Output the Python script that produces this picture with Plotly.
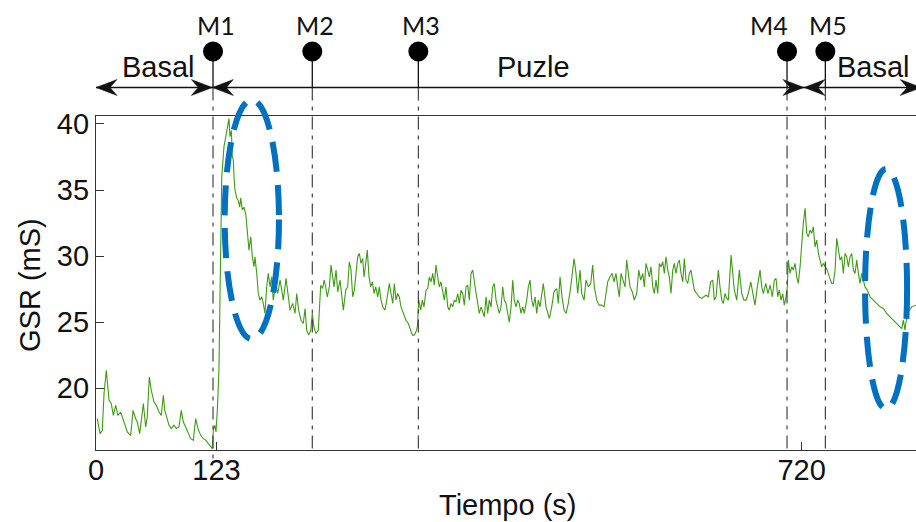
import plotly.graph_objects as go

# ---------------- data ----------------
time_s = [
    1.3, 4.1, 6.4, 8.2, 10.5, 12.2, 13.3, 15.6, 17.7, 20.1, 22.4, 25.2, 26.8, 29.3, 31.9, 35.4,
    37.8, 40.5, 42.1, 44.6, 47.2, 48.3, 50.7, 52.3, 54.4, 56.4, 59.2, 61.5, 64.3, 66.6, 68.7,
    70.1, 72.1, 74.5, 76.8, 79.6, 81.9, 84.7, 87.0, 89.1, 91.5, 94.2, 96.6, 99.3, 101.7, 104.1,
    106.8, 109.5, 112.2, 114.6, 117.0, 118.7, 119.7, 121.1, 122.4, 123.8, 125.5, 126.5, 127.2,
    128.3, 130.6, 133.4, 134.7, 135.7, 136.7, 138.1, 139.1, 140.1, 140.8, 141.8, 143.6, 145.2,
    146.6, 147.7, 149.3, 151.0, 152.8, 153.8, 155.1, 156.1, 157.9, 159.5, 161.2,
    162.2, 164.0, 165.6, 167.3, 169.1, 170.7, 172.4, 174.2, 175.8, 177.6, 179.3, 180.9, 183.4,
    185.4, 187.8, 189.5, 191.1, 193.9, 195.6, 198.0, 200.7, 203.1, 204.8, 206.8, 209.2, 211.5,
    213.3, 215.0, 217.0, 219.1, 220.7, 222.4, 224.5, 226.8, 229.3, 231.3, 232.7, 234.0, 236.0,
    238.1, 239.8, 241.5, 242.9, 244.9, 246.6, 249.0, 250.7, 252.4, 254.8, 256.8, 258.5, 260.2,
    261.9, 263.6, 265.3, 267.0, 268.7, 270.4, 272.1, 273.5, 275.2, 276.8, 278.6, 280.3, 282.0,
    283.7, 285.4, 287.5, 289.1, 290.8, 292.6, 294.9, 297.2, 299.3, 301.0, 302.8, 304.4, 306.1,
    307.9, 309.5, 311.2, 313.6, 316.3, 318.7, 321.1, 322.8, 324.8, 326.5, 327.9, 329.3, 331.3,
    333.0, 334.7, 336.7, 338.5, 340.1, 341.8, 343.6, 345.2, 346.9, 348.7, 350.3, 352.0, 353.8,
    355.4, 357.1, 358.9, 360.5, 362.2, 364.0, 365.6, 367.3, 369.1, 370.7, 372.4, 374.2, 375.8,
    377.6, 379.3, 380.9, 382.7, 384.4, 386.0, 387.8, 389.5, 391.1, 392.9, 394.6, 396.2, 398.0,
    399.7, 401.3, 403.1, 404.8, 406.4, 408.2, 409.9, 411.5, 413.3, 415.0, 416.6, 418.4, 420.1,
    421.7, 423.5, 425.2, 426.8, 428.6, 430.3, 431.9, 433.7, 435.4, 437.0, 439.5, 441.1, 442.9,
    444.6, 446.2, 448.0, 449.7, 451.3,
    453.1, 456.4, 459.2, 462.6, 465.0, 467.3, 470.1, 471.7, 473.5, 475.5, 477.6, 479.6, 481.9,
    484.4, 486.4, 487.8, 489.8, 491.5, 493.9, 495.6, 498.0, 500.0, 502.4, 504.8, 506.8, 508.5,
    510.9, 513.3, 516.0, 518.4, 520.4, 522.1, 524.5, 526.5, 528.6, 530.6, 532.3, 534.0, 535.7,
    537.4, 539.8, 541.5, 543.2, 544.9, 547.2, 549.3, 551.7, 553.8, 555.8, 557.9, 559.5, 561.2,
    563.0, 564.6, 566.3, 568.1, 569.7, 571.4, 573.2, 574.8, 576.5, 578.3, 579.9, 581.6, 583.4,
    585.0, 586.7, 588.5, 590.1, 591.8, 593.6, 595.2, 596.9, 598.7, 600.3, 602.0, 603.8, 605.4,
    607.1, 608.9, 610.5, 613.0, 615.3, 618.1, 620.4, 622.4, 624.8, 627.2, 629.3, 630.9, 632.7,
    635.0, 636.7, 638.5, 640.1, 641.8, 643.6, 645.2, 648.0, 649.7, 651.3, 653.8, 656.4, 658.9,
    661.2, 663.3, 665.6, 668.1, 670.1, 672.4, 674.8, 677.6, 679.3, 680.9, 683.4, 685.7, 687.8,
    690.1, 692.1, 693.9, 695.6, 697.2, 699.0, 700.7, 702.3, 704.1, 705.4, 706.4, 708.2, 709.9,
    711.5, 713.3, 715.0, 716.6, 718.4, 720.1, 721.7, 723.5, 725.2, 726.8, 728.6, 730.3, 731.9,
    733.7, 735.4, 737.1, 738.8, 740.5, 742.2, 744.6, 746.2, 748.3, 750.7, 752.3, 754.1, 755.8,
    757.4, 759.2, 760.9, 762.6, 764.3, 766.0, 767.7, 769.4, 771.1, 772.8, 774.5, 776.2, 777.9,
    779.6, 781.3, 783.0, 784.7, 787.0, 789.8, 793.2, 796.7, 800.0, 803.4, 806.8, 810.2, 813.6,
    817.0, 820.4, 822.1, 823.8, 825.5, 827.2, 829.9, 832.3, 836.7,
]
gsr_ms = [
    17.7, 16.57, 16.8, 19.6, 21.36, 20.1, 19.1, 18.84, 17.95, 18.7, 17.95, 18.2, 17.8, 17.2, 16.7,
    16.44, 18.33, 17.7, 17.45, 16.57, 18.58, 18.84, 17.07, 17.83, 20.85, 19.85, 18.96, 18.71, 18.2,
    17.95, 19.47, 18.33, 17.83, 17.2, 16.95, 17.2, 16.95, 17.07, 18.33, 17.45, 17.07, 16.57, 16.19,
    16.06, 17.7, 16.95, 16.44, 16.19, 16.06, 15.81, 15.55, 15.43, 16.82, 17.2, 16.7, 18.33, 21.6,
    25.9, 30.96, 36.0, 38.28, 39.3, 39.8, 40.4, 39.04, 39.5, 37.5, 37.3, 36.0, 35.0, 34.4, 34.2,
    33.7, 34.4, 33.5, 33.7, 33.2, 32.2, 31.46, 30.45, 31.46, 29.95, 29.2,
    29.95, 28.69, 27.17, 26.67, 26.92, 26.42, 25.66, 27.67, 28.69, 27.67, 28.43, 26.67, 27.93,
    27.17, 28.18, 27.42, 26.67, 28.31, 27.17, 25.91, 26.42, 25.66, 27.17, 25.91, 25.15, 24.9,
    26.04, 24.39, 24.02, 24.39, 25.66, 24.64, 24.14, 24.39, 27.8, 27.55, 28.18, 27.8, 26.92,
    27.67, 29.32, 28.43, 27.67, 28.94, 27.3, 28.18, 26.92, 25.91, 27.42, 27.67, 29.57, 28.94,
    26.92, 27.42, 28.69, 29.95, 30.2, 29.45, 29.82, 28.43, 29.45, 30.45, 28.43, 27.67, 28.05,
    27.17, 27.67, 26.92, 27.67, 26.67, 26.16, 25.91, 26.92, 27.93, 27.17, 26.42, 27.93, 26.67,
    27.17, 26.92, 26.16, 25.66, 25.15, 24.9, 24.39, 24.02, 24.02, 24.27, 24.64, 26.67, 25.91,
    26.67, 26.16, 27.42, 27.55, 28.43, 28.05, 28.69, 27.8, 29.32, 28.43, 27.67, 28.05, 27.17,
    26.67, 27.67, 26.16, 25.91, 26.42, 26.16, 26.67, 26.54, 27.17, 26.42, 27.42, 27.17, 26.29,
    27.67, 27.8, 26.67, 28.69, 28.94, 27.93, 27.17, 26.42, 25.66, 26.16, 25.66, 25.41, 26.92,
    25.66, 26.67, 26.16, 27.67, 27.93, 26.67, 26.16, 25.66, 26.16, 27.67, 26.67, 26.42, 25.66,
    24.98, 26.16, 28.18, 26.67, 26.16, 26.67, 26.42, 25.66, 26.16, 25.66, 26.67, 27.67, 28.18,
    26.67, 26.16, 26.92, 25.66, 26.67,
    26.16, 27.93, 26.16, 25.28, 26.16, 27.3, 27.55, 26.42, 28.43, 26.92, 25.91, 25.66, 26.42,
    27.67, 28.94, 29.82, 28.69, 27.17, 28.94, 27.17, 26.67, 28.18, 27.67, 27.93, 29.32, 27.67,
    26.67, 26.29, 26.29, 26.16, 27.17, 28.05, 28.43, 28.69, 28.05, 28.69, 27.67, 26.92, 28.69,
    28.18, 27.67, 29.7, 28.69, 27.67, 27.3, 26.67, 27.17, 28.94, 28.18, 28.69, 27.67, 29.45,
    28.94, 28.43, 29.19, 27.67, 27.17, 28.18, 27.17, 29.45, 29.19, 29.57, 28.69, 29.95, 28.94,
    28.43, 27.17, 28.94, 29.45, 28.69, 29.45, 29.7, 28.69, 28.05, 29.82, 28.18, 27.93, 28.69,
    28.94, 28.05, 27.42, 27.17, 26.92, 26.8, 26.92, 27.04, 26.92, 28.05, 28.18, 26.67, 26.92,
    28.94, 27.67, 26.67, 26.42, 27.17, 26.8, 26.67, 30.08, 28.43, 27.42, 26.67, 28.94, 27.17,
    26.67, 26.67, 27.17, 28.05, 27.17, 26.29, 27.67, 28.94, 27.67, 27.17, 27.93, 27.17, 27.8,
    26.92, 28.18, 28.31, 26.92, 27.42, 26.67, 27.17, 26.29, 26.92, 27.67, 29.7, 28.69, 29.19,
    28.94, 29.45, 28.43, 27.93, 29.19, 31.21, 32.48, 33.61, 31.72, 31.46, 31.97, 31.72, 32.22,
    30.7, 31.21, 30.2, 29.7, 29.19, 29.45, 29.19, 28.94, 28.43, 27.93, 27.93, 28.94, 31.34,
    30.45, 29.7, 29.95, 28.69, 30.2, 29.95, 29.19, 29.95, 30.2, 28.94, 28.69, 29.7, 28.69,
    27.93, 28.69, 28.18, 27.67, 27.42, 26.92, 26.67, 26.42, 26.16, 26.04, 25.66, 25.41, 25.15,
    24.9, 24.64, 24.52, 25.15, 24.39, 25.41, 25.91, 26.16, 26.29,
]

marker_labels = ["M1", "M2", "M3", "M4", "M5"]
marker_times = [119.4, 220.7, 328.9, 705.1, 744.2]
phase_names = ["Basal", "Puzle", "Basal"]
phase_bounds = [0, 118.7, 722.4, 842.0]

x_tick_vals = [0, 123, 720]
y_tick_vals = [20, 25, 30, 35, 40]

# ---------------- layout geometry ----------------
W, H = 916, 522
ML, MR, MT, MB = 96, 0, 116, 72
PW, PH = W - ML - MR, H - MT - MB
X_RANGE = [0, 836.7]
Y_RANGE = [15.33, 40.6]


def xp(t):  # data x -> paper
    return (t - X_RANGE[0]) / (X_RANGE[1] - X_RANGE[0])


def yp(v):  # data y -> paper
    return (v - Y_RANGE[0]) / (Y_RANGE[1] - Y_RANGE[0])


def pyp(py):  # screen pixel y -> paper
    return (H - MB - py) / PH


def sxp(px):  # screen pixel x -> paper
    return (px - ML) / PW


def pxp(dx):  # pixel x distance -> paper distance
    return dx / PW


ARIAL = "Liberation Sans, Arial, sans-serif"
BLACK = "#111111"

fig = go.Figure()
fig.add_trace(go.Scatter(x=time_s, y=gsr_ms, mode="lines",
                         line=dict(color="#3f9b14", width=1.1),
                         hoverinfo="skip", showlegend=False))

shapes = []
annotations = []

# Marker stems, circles, dashed verticals, labels
label_shift = [3, 3, 3, -18, 3]
CIRCLE_Y, ARROW_Y, LABEL_Y = 51.5, 87.5, 25
for name, t, sh in zip(marker_labels, marker_times, label_shift):
    x = xp(t)
    shapes.append(dict(type="line", xref="paper", yref="paper", x0=x, x1=x,
                       y0=pyp(CIRCLE_Y), y1=pyp(ARROW_Y),
                       line=dict(color=BLACK, width=1.3)))
    shapes.append(dict(type="line", xref="paper", yref="paper", x0=x, x1=x,
                       y0=pyp(ARROW_Y), y1=pyp(460 if name == "M1" else 450),
                       line=dict(color="#333333", width=1.1, dash="13px,6px,4px,6px")))
    r = 10
    shapes.append(dict(type="circle", xref="paper", yref="paper",
                       x0=x - pxp(r), x1=x + pxp(r),
                       y0=pyp(CIRCLE_Y + r), y1=pyp(CIRCLE_Y - r),
                       fillcolor="black", line=dict(color="black", width=0)))
    annotations.append(dict(text=name, xref="paper", yref="paper", x=x, y=pyp(LABEL_Y),
                            xanchor="center", yanchor="middle", xshift=sh, showarrow=False,
                            font=dict(family="Lato, Noto Sans, sans-serif", size=25, color=BLACK)))

# Phase arrow line
shapes.append(dict(type="line", xref="paper", yref="paper", x0=0, x1=1.01,
                   y0=pyp(ARROW_Y), y1=pyp(ARROW_Y), line=dict(color=BLACK, width=1.3)))


def arrowhead(t, direction):
    L, hw, notch = 21, 8, 7
    x = xp(t)
    y = pyp(ARROW_Y)
    bx = x - direction * pxp(L)
    nx = x - direction * pxp(L - notch)
    ty = hw / PH
    path = f"M {x},{y} L {bx},{y + ty} L {nx},{y} L {bx},{y - ty} Z"
    return dict(type="path", xref="paper", yref="paper", path=path,
                fillcolor=BLACK, line=dict(color=BLACK, width=0.5))


for i in range(len(phase_names)):
    shapes.append(arrowhead(phase_bounds[i], -1))
    shapes.append(arrowhead(phase_bounds[i + 1], 1))

phase_label_x = [63.3, 445.9, 793.4]
for name, t in zip(phase_names, phase_label_x):
    annotations.append(dict(text=name, xref="paper", yref="paper", x=xp(t), y=pyp(67),
                            xanchor="center", yanchor="middle", showarrow=False,
                            font=dict(family=ARIAL, size=29, color=BLACK)))

# Highlight ellipses (blue dashed)
for (t0, t1, v0, v1) in [(131.3, 186.7, 23.73, 41.82), (784.7, 827.6, 18.43, 36.59)]:
    shapes.append(dict(type="circle", xref="paper", yref="paper",
                       x0=xp(t0), x1=xp(t1), y0=yp(v0), y1=yp(v1),
                       line=dict(color="#0070C0", width=6, dash="30px,13px")))

# Axis titles
annotations.append(dict(text="Tiempo (s)", xref="paper", yref="paper", x=sxp(508),
                        y=pyp(505), xanchor="center", yanchor="middle", showarrow=False,
                        font=dict(family=ARIAL, size=29, color=BLACK)))
annotations.append(dict(text="GSR (mS)", xref="paper", yref="paper", x=sxp(30),
                        y=pyp(285), xanchor="center", yanchor="middle", showarrow=False,
                        textangle=-90, font=dict(family=ARIAL, size=29, color=BLACK)))

fig.update_layout(
    width=W, height=H, margin=dict(l=ML, r=MR, t=MT, b=MB, pad=0),
    paper_bgcolor="white", plot_bgcolor="white",
    shapes=shapes, annotations=annotations, showlegend=False,
    xaxis=dict(range=X_RANGE, tickvals=x_tick_vals, ticktext=[str(v) for v in x_tick_vals],
               ticks="inside", ticklen=8, tickcolor="#333", showgrid=False, zeroline=False,
               showline=True, linecolor="#333", linewidth=1.2, mirror=True,
               ticklabelstandoff=-6,
               tickfont=dict(family=ARIAL, size=29, color=BLACK)),
    yaxis=dict(range=Y_RANGE, tickvals=y_tick_vals, ticks="inside", ticklen=8,
               tickcolor="#333", showgrid=False, zeroline=False, showline=True,
               linecolor="#333", linewidth=1.2,
               tickfont=dict(family=ARIAL, size=29, color=BLACK)),
)

# remove the page's default body margin so the 916x522 figure fills the window exactly
fig.write_html(
    "out.html",
    config={"displayModeBar": False},
    post_script="document.body.style.margin='0';"
                "document.documentElement.style.overflow='hidden';"
                "document.body.style.overflow='hidden';",
)
